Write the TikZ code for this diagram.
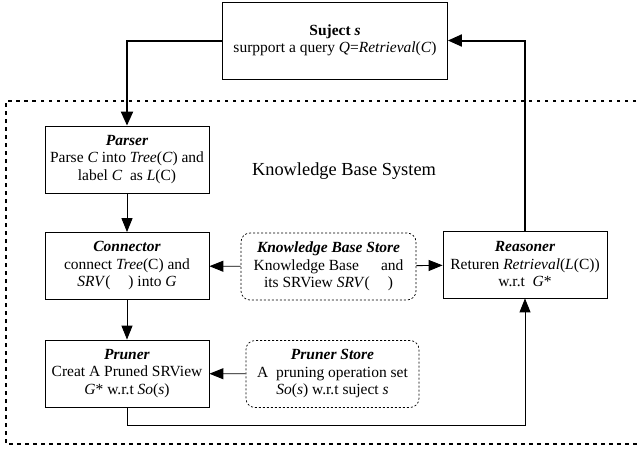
\documentclass[tikz,border=0pt]{standalone}
\usepackage{fontspec}
\setmainfont{Liberation Serif}
\usetikzlibrary{arrows.meta}
\begin{document}
\begin{tikzpicture}[x=1pt,y=-1pt,
  every node/.style={font=\fontsize{15.5}{17.5}\selectfont, align=center, inner sep=0pt},
  box/.style={draw, line width=0.8pt, minimum width=164pt, minimum height=67pt},
  store/.style={draw, line width=0.7pt, dash pattern=on 2pt off 2pt, rounded corners=9pt, minimum width=175pt, minimum height=67pt},
  conn/.style={line width=0.9pt, -{Triangle[length=14pt,width=11pt]}},
  thickconn/.style={line width=2pt, -{Triangle[length=14pt,width=12pt]}},
  border/.style={line width=1.6pt, dash pattern=on 3.5pt off 4.5pt}
]
\useasboundingbox (0,0) rectangle (640,451);
\draw[border] (652,101) -- (6,101) -- (6,444) -- (652,444);
\node[box, minimum width=225pt, minimum height=77pt] (subj) at (335,40.5) {\textbf{Suject \textit{s}}\\surpport a query \textit{Q}=\textit{Retrieval}(\textit{C})};
\node[box] (parser) at (127,159.5) {\textbf{\textit{Parser}}\\Parse \textit{C} into \textit{Tree}(\textit{C}) and\\label \textit{C}\ \ as \textit{L}(C)};
\node[box] (connector) at (127,266) {\textbf{\textit{Connector}}\\connect \textit{Tree}(C) and\\\textit{SRV}(\hspace{18pt}) into \textit{G}};
\node[box] (pruner) at (127,373.5) {\textbf{\textit{Pruner}}\\Creat A Pruned SRView\\\textit{G}* w.r.t \textit{So}(\textit{s})};
\node[store] (kbstore) at (328.5,266.5) {\textbf{\textit{Knowledge Base Store}}\\Knowledge Base\hspace{22pt}and\\its SRView \textit{SRV}(\hspace{18pt})};
\node[store, minimum width=173pt] (prstore) at (332.5,374) {\textbf{\textit{Pruner Store}}\\A\ \ pruning operation set\\\textit{So}(\textit{s}) w.r.t suject \textit{s}};
\node[box] (reasoner) at (525,264.5) {\textbf{\textit{Reasoner}}\\Returen \textit{Retrieval}(\textit{L}(C))\\w.r.t\ \ \textit{G}*};
\node[font=\fontsize{18.4}{20}\selectfont] (kbs) at (344,171) {Knowledge Base System};
\coordinate (c1) at (127,40.5);
\coordinate (c2) at (525,40.5);
\coordinate (c3) at (127,425);
\coordinate (c4) at (525,425);
\draw[thickconn] (subj.west) -- (c1) -- (parser.north);
\draw[thickconn] (reasoner.north) -- (c2) -- (subj.east);
\draw[conn] (parser) -- (connector);
\draw[conn] (connector) -- (pruner);
\draw[conn] (kbstore) -- (connector);
\draw[conn] (kbstore) -- (reasoner);
\draw[conn] (prstore) -- (pruner);
\draw[conn] (pruner.south) -- (c3) -- (c4) -- (reasoner.south);
\end{tikzpicture}
\end{document}
